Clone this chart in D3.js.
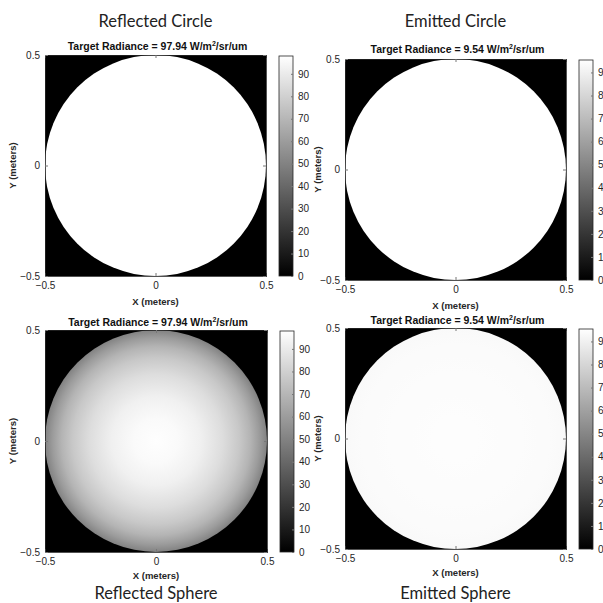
<!DOCTYPE html>
<html>
<head>
<meta charset="utf-8">
<script src="https://cdn.jsdelivr.net/npm/d3@7"></script>
<style>
  body { margin: 0; background: #fff; }
  svg text { font-family: "Liberation Sans", Arial, sans-serif; }
</style>
</head>
<body>
<div id="vis-container"></div>
<script>
// data
const panelTitles = ["Reflected Circle", "Emitted Circle", "Reflected Sphere", "Emitted Sphere"];
const radianceValues = [97.94, 9.54, 97.94, 9.54];
const axisTicks = [-0.5, 0, 0.5];
const reflectedTicks = [0, 10, 20, 30, 40, 50, 60, 70, 80, 90];
const emittedTicks = [0, 1, 2, 3, 4, 5, 6, 7, 8, 9];
// radial profile of the shaded discs (fraction of disc radius -> radiance)
const profileRadii = [0, 0.2, 0.4, 0.6, 0.75, 0.85, 0.93, 1.0];
const reflectedCircleProfile = [97.94, 97.94, 97.94, 97.94, 97.94, 97.94, 97.94, 97.94];
const emittedCircleProfile = [9.54, 9.54, 9.54, 9.54, 9.54, 9.54, 9.54, 9.54];
const reflectedSphereProfile = [97.5, 96, 92, 85, 77, 69, 60, 50];
const emittedSphereProfile = [9.45, 9.45, 9.44, 9.42, 9.4, 9.38, 9.36, 9.33];

const profiles = [reflectedCircleProfile, emittedCircleProfile, reflectedSphereProfile, emittedSphereProfile];
const cbTicks = [reflectedTicks, emittedTicks, reflectedTicks, emittedTicks];

// layout of each panel (plot box, colorbar, title positions)
const layout = [
  { x: 45, y: 55, size: 221, cbx: 279, titleY: 27, subY: 50, ylabX: 13, xlabDy: 29 },
  { x: 345, y: 59, size: 221, cbx: 579, titleY: 27, subY: 53, ylabX: 318, xlabDy: 29 },
  { x: 45, y: 330, size: 222, cbx: 280, titleY: 599, subY: 326, ylabX: 13, xlabDy: 27 },
  { x: 345, y: 328, size: 221, cbx: 579, titleY: 599, subY: 324, ylabX: 318, xlabDy: 27 }
];

const W = 603, H = 603;
const tickColor = "#262626";

const svg = d3.select("#vis-container")
    .append("svg")
    .attr("width", W)
    .attr("height", H);

svg.append("rect").attr("width", W).attr("height", H).attr("fill", "#fff");
const defs = svg.append("defs");

layout.forEach((L, i) => {
    const maxV = radianceValues[i];
    const gray = d3.scaleLinear().domain([0, maxV]).range(["#000", "#fff"]).clamp(true);

    const x = d3.scaleLinear().domain([-0.5, 0.5]).range([L.x, L.x + L.size]);
    const y = d3.scaleLinear().domain([-0.5, 0.5]).range([L.y + L.size, L.y]);

    const g = svg.append("g");

    // black background of the image
    g.append("rect")
        .attr("x", x(-0.5)).attr("y", y(0.5))
        .attr("width", x(0.5) - x(-0.5)).attr("height", y(-0.5) - y(0.5))
        .attr("fill", gray(0));

    // radial gradient from the profile
    const gradId = "disc" + i;
    const rg = defs.append("radialGradient").attr("id", gradId)
        .attr("cx", "50%").attr("cy", "50%").attr("r", "50%");
    rg.selectAll("stop")
        .data(profileRadii)
        .enter()
        .append("stop")
        .attr("offset", (d) => (d * 100) + "%")
        .attr("stop-color", (d, k) => gray(profiles[i][k]));

    g.append("circle")
        .attr("cx", x(0)).attr("cy", y(0))
        .attr("r", x(0.5) - x(0))
        .attr("fill", `url(#${gradId})`);

    // axes (ticks inside, MATLAB style)
    g.append("g")
        .attr("transform", `translate(0,${y(-0.5)})`)
        .call(d3.axisBottom(x).tickValues(axisTicks).tickSize(-3).tickPadding(6).tickFormat(d3.format("")))
        .call((a) => a.select(".domain").attr("stroke", tickColor).attr("stroke-width", 0.8))
        .call((a) => a.selectAll(".tick line").attr("stroke", "#777"))
        .call((a) => a.selectAll(".tick text").attr("fill", tickColor).style("font-size", "10px"));

    g.append("g")
        .attr("transform", `translate(0,${y(0.5)})`)
        .call(d3.axisTop(x).tickValues(axisTicks).tickSize(-3).tickFormat(""))
        .call((a) => a.select(".domain").attr("stroke", tickColor).attr("stroke-width", 0.8))
        .call((a) => a.selectAll(".tick line").attr("stroke", "#777"));

    g.append("g")
        .attr("transform", `translate(${x(-0.5)},0)`)
        .call(d3.axisLeft(y).tickValues(axisTicks).tickSize(-3).tickPadding(5).tickFormat(d3.format("")))
        .call((a) => a.select(".domain").attr("stroke", tickColor).attr("stroke-width", 0.8))
        .call((a) => a.selectAll(".tick line").attr("stroke", "#777"))
        .call((a) => a.selectAll(".tick text").attr("fill", tickColor).style("font-size", "10px"));

    g.append("g")
        .attr("transform", `translate(${x(0.5)},0)`)
        .call(d3.axisRight(y).tickValues(axisTicks).tickSize(-3).tickFormat(""))
        .call((a) => a.select(".domain").attr("stroke", tickColor).attr("stroke-width", 0.8))
        .call((a) => a.selectAll(".tick line").attr("stroke", "#777"));

    // axis labels
    g.append("text")
        .attr("x", x(0)).attr("y", y(-0.5) + L.xlabDy)
        .attr("text-anchor", "middle")
        .style("font-size", "9.5px").style("font-weight", "bold")
        .attr("fill", tickColor)
        .text("X (meters)");

    g.append("text")
        .attr("transform", `translate(${L.ylabX + 3},${y(0)}) rotate(-90)`)
        .attr("text-anchor", "middle")
        .style("font-size", "9.5px").style("font-weight", "bold")
        .attr("fill", tickColor)
        .text("Y (meters)");

    // subtitle with superscript
    const sub = g.append("text")
        .attr("x", x(0) + 2).attr("y", L.subY)
        .attr("text-anchor", "middle")
        .style("font-size", "10.5px").style("font-weight", "bold")
        .attr("fill", "#111");
    sub.append("tspan").text(`Target Radiance = ${maxV.toFixed(2)} W/m`);
    sub.append("tspan").attr("dy", -4).style("font-size", "7px").text("2");
    sub.append("tspan").attr("dy", 4).text("/sr/um");

    // panel title
    g.append("text")
        .attr("x", x(0)).attr("y", L.titleY)
        .attr("text-anchor", "middle")
        .style("font-family", "Lato, 'Open Sans', sans-serif")
        .style("font-size", "16.5px")
        .attr("fill", "#222")
        .text(panelTitles[i]);

    // colorbar
    const cbW = 14;
    const cy = d3.scaleLinear().domain([0, maxV]).range([y(-0.5), y(0.5) + 1]);
    const cbId = "cb" + i;
    const lg = defs.append("linearGradient").attr("id", cbId)
        .attr("x1", 0).attr("y1", 1).attr("x2", 0).attr("y2", 0);
    lg.selectAll("stop")
        .data([0, maxV])
        .enter()
        .append("stop")
        .attr("offset", (d) => (d / maxV * 100) + "%")
        .attr("stop-color", (d) => gray(d));

    g.append("rect")
        .attr("x", L.cbx).attr("y", cy(maxV))
        .attr("width", cbW).attr("height", cy(0) - cy(maxV))
        .attr("fill", `url(#${cbId})`)
        .attr("stroke", tickColor).attr("stroke-width", 0.8);

    g.append("g")
        .attr("transform", `translate(${L.cbx + cbW},0)`)
        .call(d3.axisRight(cy).tickValues(cbTicks[i]).tickSize(-2).tickPadding(5))
        .call((a) => a.select(".domain").remove())
        .call((a) => a.selectAll(".tick line").attr("stroke", "#777"))
        .call((a) => a.selectAll(".tick text").attr("fill", tickColor).style("font-size", "10px"));
});
</script>
</body>
</html>
